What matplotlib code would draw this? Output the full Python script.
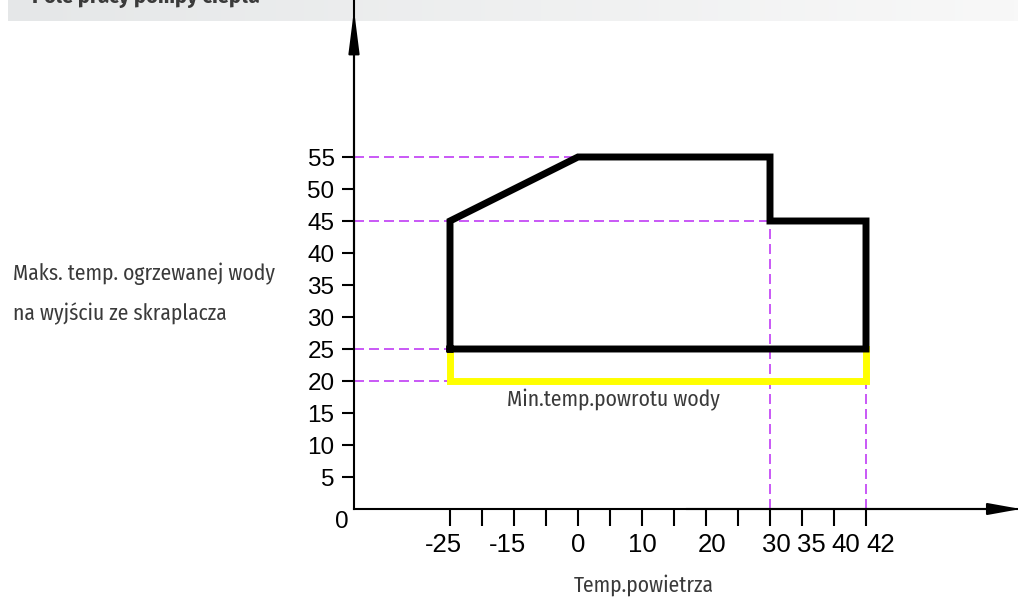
import matplotlib.pyplot as plt
import numpy as np
from matplotlib.colors import LinearSegmentedColormap
from matplotlib.transforms import ScaledTranslation

# Operating envelope of the heat pump (air temp vs. water temp)
env_x = [-25, -25, 0, 30, 30, 42, 42, -25]
env_y = [25, 45, 55, 55, 45, 45, 25, 25]

# Minimum return water temperature
ret_x = [-25, -25, 42, 42]
ret_y = [25, 20, 20, 25]

# Reference levels (dashed guides)
h_levels = [55, 45, 25, 20]
h_ends = [0, 30, -25, -25]
v_levels = [30, 42]
v_tops = [45, 20]

x_ticks = [-25, -15, 0, 10, 20, 30, 35, 40, 42]
x_ticklabels = ['-25', '-15', '0', '10', '20', '30', '35', '40', '42']
y_ticks = [5, 10, 15, 20, 25, 30, 35, 40, 45, 50, 55]

# the temperature axis is schematic: piecewise linear between these anchors
scale_t = np.array([-25.0, 0.0, 30.0, 42.0])
scale_i = np.array([0.0, 4.0, 10.0, 13.0])


def piecewise(x, src, dst):
    x = np.asarray(x, dtype=float)
    out = np.interp(x, src, dst)
    lo = dst[0] + (x - src[0]) * (dst[1] - dst[0]) / (src[1] - src[0])
    hi = dst[-1] + (x - src[-1]) * (dst[-1] - dst[-2]) / (src[-1] - src[-2])
    out = np.where(x < src[0], lo, out)
    out = np.where(x > src[-1], hi, out)
    return out


def fwd(x):
    return piecewise(x, scale_t, scale_i)


def inv(x):
    return piecewise(x, scale_i, scale_t)


W, H = 1018, 601
fig = plt.figure(figsize=(W / 100, H / 100), dpi=100)

narrow = ['Fira Sans Condensed', 'DejaVu Sans']
arial = ['Liberation Sans', 'DejaVu Sans']
grey = '#3a3a3a'

# header bar with gradient
hdr = fig.add_axes([8 / W, 1 - 21 / H, 1 - 8 / W, 21 / H], zorder=0)
grad = np.linspace(0, 1, 256).reshape(1, -1)
cm = LinearSegmentedColormap.from_list('hdr', ['#e5e7e8', '#f8f8f8'])
hdr.imshow(grad, aspect='auto', cmap=cm, extent=[0, 1, 0, 1])
hdr.axis('off')
fig.text(32 / W, 1 - 3 / H, 'Pole pracy pompy ciepła', family=narrow,
         fontsize=16, fontweight='bold', color=grey, va='baseline', ha='left')

ax = fig.add_axes([354 / W, 1 - 509 / H, (W - 354) / W, 509 / H], zorder=2)
ax.patch.set_alpha(0)
ax.set_xscale('function', functions=(fwd, inv))
ax.set_xlim(inv(-3.0), inv(17.75))
ax.set_ylim(0, 509 / 6.4)

# dashed guides
guide = dict(color='#c03cf5', lw=1.2, dashes=(6, 3), zorder=1)
x0 = inv(-3.0)
for lvl, end in zip(h_levels, h_ends):
    ax.plot([x0, end], [lvl, lvl], **guide)
for xv, top in zip(v_levels, v_tops):
    ax.plot([xv, xv], [0, top], **guide)

ax.plot(ret_x, ret_y, color='#ffff00', lw=5, solid_joinstyle='miter', zorder=2)
ax.plot(env_x, env_y, color='black', lw=5, solid_joinstyle='miter',
        solid_capstyle='projecting', zorder=3)

# axes with arrows
for s in ['top', 'right']:
    ax.spines[s].set_visible(False)
ax.spines['left'].set_linewidth(1.5)
ax.spines['bottom'].set_linewidth(1.5)
ax.annotate('', xy=(0, (509 - 10) / 509), xytext=(0, 0.5), xycoords='axes fraction',
            arrowprops=dict(arrowstyle='-|>,head_length=26,head_width=3.3',
                            mutation_scale=1, lw=1.5, color='black',
                            shrinkA=0, shrinkB=0), annotation_clip=False)
ax.annotate('', xy=(1.004, 0), xytext=(0.5, 0), xycoords='axes fraction',
            arrowprops=dict(arrowstyle='-|>,head_length=20,head_width=3.6',
                            mutation_scale=1, lw=1.5, color='black',
                            shrinkA=0, shrinkB=0), annotation_clip=False)

ax.set_yticks(y_ticks)
ax.set_yticklabels([str(v) for v in y_ticks], family=arial)
ax.tick_params(axis='y', length=9, width=1.5, pad=5, labelsize=17.5)

ax.xaxis.remove_overlapping_locs = False
ax.set_xticks(x_ticks)
ax.set_xticklabels(x_ticklabels, family=arial)
ax.set_xticks(inv(np.arange(14)), minor=True)
ax.tick_params(axis='x', which='major', length=0, pad=17, labelsize=18.5)
ax.tick_params(axis='x', which='minor', length=12, width=1.5)

# small horizontal nudges of the tick labels (pixels), as in the original drawing
nudges = [-7, 6, 0, 0, 6, 6, 1, -4, 15]
for lab, dx in zip(ax.get_xticklabels(), nudges):
    lab.set_transform(lab.get_transform() + ScaledTranslation(dx / 100, 0, fig.dpi_scale_trans))

ax.text(-0.018, -0.026, '0', transform=ax.transAxes, fontsize=17.5, family=arial,
        ha='center', va='center')

ax.text(5.6, 17.0, 'Min.temp.powrotu wody', family=narrow, fontsize=15.5,
        color=grey, ha='center', va='center')
fig.text(644 / W, 1 - 585 / H, 'Temp.powietrza', family=narrow, fontsize=15.5,
         color=grey, ha='center', va='center')
fig.text(13 / W, 1 - 274 / H, 'Maks. temp. ogrzewanej wody', family=narrow,
         fontsize=15.5, color=grey, ha='left', va='center')
fig.text(13 / W, 1 - 314 / H, 'na wyjściu ze skraplacza', family=narrow,
         fontsize=15.5, color=grey, ha='left', va='center')

fig.savefig('out.png', dpi=100)
